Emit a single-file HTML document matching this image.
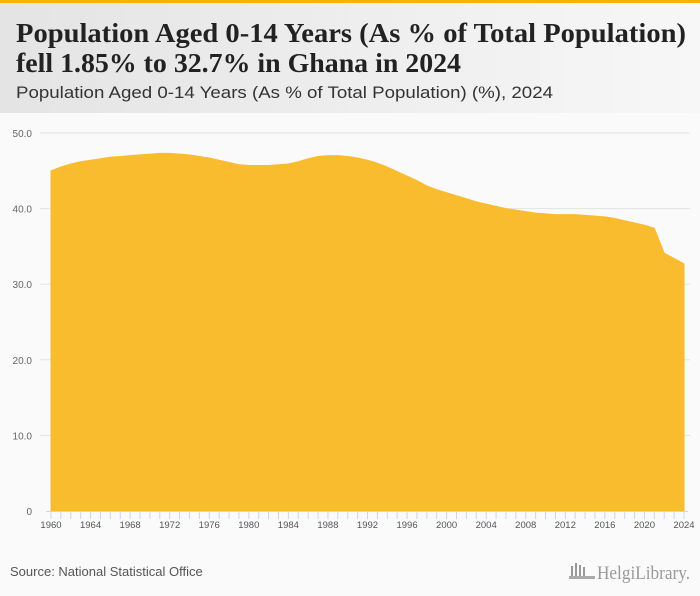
<!DOCTYPE html>
<html><head><meta charset="utf-8"><style>
html,body{margin:0;padding:0;width:700px;height:596px;overflow:hidden;background:#fafafa}
svg{display:block}
</style></head><body>
<svg width="700" height="596" xmlns="http://www.w3.org/2000/svg">
<defs><linearGradient id="hg" x1="0" x2="1" y1="0" y2="0"><stop offset="0" stop-color="#e4e4e4"/><stop offset="1" stop-color="#f7f7f7"/></linearGradient></defs>
<rect x="0" y="0" width="700" height="113" fill="url(#hg)"/>
<rect x="0" y="0" width="700" height="3" fill="#f5b400"/>
<text x="16" y="42" font-family="Liberation Serif, serif" font-weight="bold" font-size="27" fill="#222" textLength="670" lengthAdjust="spacingAndGlyphs">Population Aged 0-14 Years (As % of Total Population)</text>
<text x="16" y="72" font-family="Liberation Serif, serif" font-weight="bold" font-size="27" fill="#222" textLength="445" lengthAdjust="spacingAndGlyphs">fell 1.85% to 32.7% in Ghana in 2024</text>
<text x="16" y="98" font-family="Liberation Sans, sans-serif" font-size="17" fill="#333" textLength="537" lengthAdjust="spacingAndGlyphs">Population Aged 0-14 Years (As % of Total Population) (%), 2024</text>
<g id="grid"></g>
<g id="area"></g>
<g id="xaxis"></g>
<text x="10" y="576" font-family="Liberation Sans, sans-serif" font-size="13" fill="#555">Source: National Statistical Office</text>
<g>
<rect x="571" y="566" width="2" height="10" fill="#999"/><rect x="575" y="563" width="2" height="13" fill="#999"/><rect x="579" y="565" width="2" height="11" fill="#999"/><rect x="583" y="567" width="2" height="9" fill="#999"/><rect x="569" y="576" width="26" height="3" fill="#aaa"/>
<text x="597" y="579" font-family="Liberation Serif, serif" font-size="19" fill="#999" textLength="93" lengthAdjust="spacingAndGlyphs">HelgiLibrary.</text>
</g>
</svg>
<script>
const years = [];
for (let y = 1960; y <= 2024; y++) years.push(y);
const values = [45.0,45.5,45.9,46.2,46.4,46.6,46.8,46.9,47.0,47.1,47.2,47.3,47.3,47.2,47.1,46.9,46.7,46.4,46.1,45.8,45.7,45.7,45.7,45.8,45.9,46.2,46.6,46.9,47.0,47.0,46.9,46.7,46.4,46.0,45.5,44.9,44.3,43.7,43.0,42.5,42.1,41.7,41.3,40.9,40.6,40.3,40.0,39.8,39.6,39.4,39.3,39.2,39.2,39.2,39.1,39.0,38.9,38.7,38.4,38.1,37.8,37.4,34.1,33.4,32.7];
const yTicks = [0,10,20,30,40,50];
const yTickLabels = ["0","10.0","20.0","30.0","40.0","50.0"];
const xTickYears = [1960,1964,1968,1972,1976,1980,1984,1988,1992,1996,2000,2004,2008,2012,2016,2020,2024];

const NS = "http://www.w3.org/2000/svg";
const x0 = 51, x1 = 684, yb = 511, yt = 133;
const xs = yr => x0 + (yr - 1960) / (2024 - 1960) * (x1 - x0);
const ys = v => yb - v / 50 * (yb - yt);
function mk(tag, attrs, parent) { const e = document.createElementNS(NS, tag); for (const k in attrs) e.setAttribute(k, attrs[k]); parent.appendChild(e); return e; }

const grid = document.getElementById('grid');
yTicks.forEach((t, i) => {
  if (t > 0) {
    const l = mk('line', {x1: 40, x2: 690, y1: ys(t), y2: ys(t), stroke: '#e3e3e3', 'stroke-width': 1}, grid);
    
    
  }
  const tx = mk('text', {x: 32, y: ys(t) + 4, 'text-anchor': 'end', 'font-family': 'Liberation Sans, sans-serif', 'font-size': 10, fill: '#666'}, grid);
  tx.textContent = yTickLabels[i];
  
  
});

const area = document.getElementById('area');
let d = 'M' + xs(years[0]) + ',' + yb;
years.forEach((yr, i) => { d += ' L' + xs(yr).toFixed(2) + ',' + ys(values[i]).toFixed(2); });
d += ' L' + xs(years[years.length - 1]) + ',' + yb + ' Z';
const p = mk('path', {d: d, fill: '#f9bc2f', stroke: '#f9bc2f', 'stroke-width': 1, 'stroke-linejoin': 'round'}, area);



const xa = document.getElementById('xaxis');
const ax = mk('line', {x1: 46, x2: 688, y1: yb + 0.5, y2: yb + 0.5, stroke: '#ccd6eb', 'stroke-width': 1}, xa);


years.forEach(yr => {
  const tk = mk('line', {x1: xs(yr), x2: xs(yr), y1: yb, y2: yb + 8, stroke: '#ccd6eb', 'stroke-width': 1}, xa);
  
  
});
xTickYears.forEach(yr => {
  const t = mk('text', {x: xs(yr), y: yb + 17, 'text-anchor': 'middle', 'font-family': 'Liberation Sans, sans-serif', 'font-size': 9.5, fill: '#555'}, xa);
  t.textContent = yr;
  
  
});
</script>
</body></html>
